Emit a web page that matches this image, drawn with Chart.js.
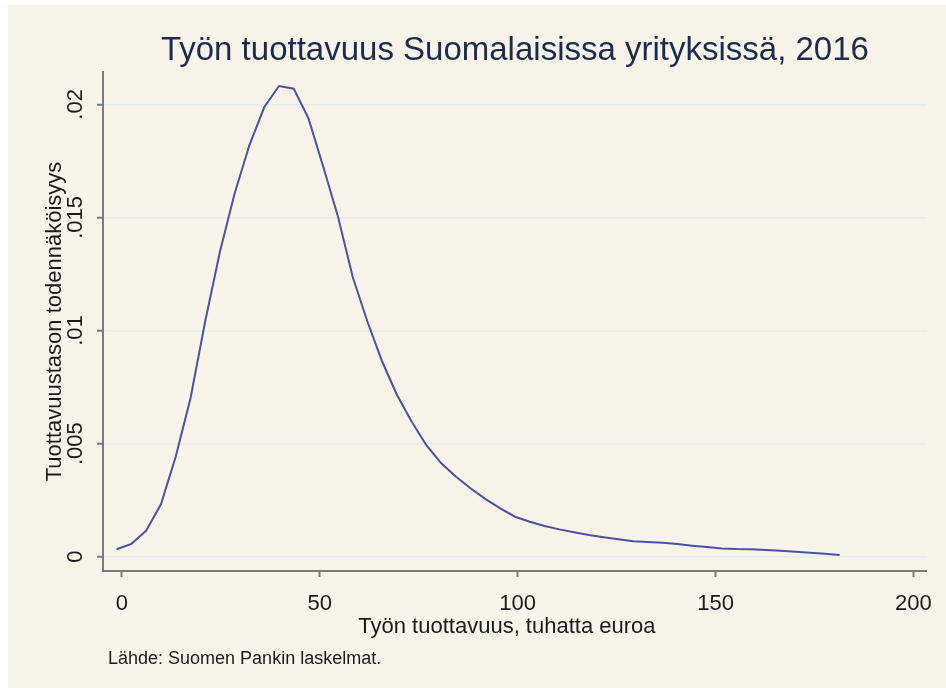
<!DOCTYPE html>
<html>
<head>
<meta charset="utf-8">
<script src="https://cdn.jsdelivr.net/npm/chart.js@4.4.1/dist/chart.umd.min.js"></script>
<style>
  html, body { margin: 0; padding: 0; background: #ffffff; }
  #wrap { width: 946px; height: 688px; position: relative; }
</style>
</head>
<body>
<div id="wrap"><canvas id="c" width="946" height="688"></canvas></div>
<script>
// ---- data ----
const titleText = 'Työn tuottavuus Suomalaisissa yrityksissä, 2016';
const xTitle = 'Työn tuottavuus, tuhatta euroa';
const yTitle = 'Tuottavuustason todennäköisyys';
const sourceText = 'Lähde: Suomen Pankin laskelmat.';

const xTicks = [0, 50, 100, 150, 200];
const xTickLabels = ['0', '50', '100', '150', '200'];
const yTicks = [0, 0.005, 0.01, 0.015, 0.02];
const yTickLabels = ['0', '.005', '.01', '.015', '.02'];

const productivity = [
  -1.34, 2.39, 6.12, 9.85, 13.58, 17.31, 21.03, 24.76, 28.49, 32.22,
  35.95, 39.68, 43.41, 47.14, 50.87, 54.60, 58.32, 62.05, 65.78, 69.51,
  73.24, 76.97, 80.70, 84.43, 88.16, 91.89, 95.61, 99.34, 103.07, 106.80,
  110.53, 114.26, 117.99, 121.72, 125.45, 129.18, 132.90, 136.63, 140.36, 144.09,
  147.82, 151.55, 155.28, 159.01, 162.74, 166.47, 170.19, 173.92, 177.65, 181.38
];
const density = [
  0.00033, 0.00057, 0.00115, 0.00232, 0.00442, 0.00700, 0.01040, 0.01348, 0.01607, 0.01820,
  0.01987, 0.02081, 0.02069, 0.01938, 0.01724, 0.01503, 0.01237, 0.01039, 0.00862, 0.00715,
  0.00597, 0.00492, 0.00413, 0.00354, 0.00302, 0.00255, 0.00214, 0.00177, 0.00155, 0.00136,
  0.00121, 0.00108, 0.00096, 0.00086, 0.00077, 0.00069, 0.00065, 0.00062, 0.00056, 0.00049,
  0.00043, 0.00037, 0.00034, 0.00033, 0.00030, 0.00027, 0.00022, 0.00018, 0.00013, 0.00008
];

// ---- styling ----
const FONT = '"Liberation Sans", Arial, Helvetica, sans-serif';
const BG = '#f8f4ea';
const AXIS = '#7a7a7a';
const GRID = '#e6ecec';
const LINE = '#4b51a5';
const TEXT = '#1b1b1b';
const TITLE = '#1d2b4c';

const bgPlugin = {
  id: 'bg',
  beforeDraw(chart) {
    const ctx = chart.ctx;
    ctx.save();
    ctx.fillStyle = '#ffffff';
    ctx.fillRect(0, 0, chart.width, chart.height);
    ctx.fillStyle = BG;
    ctx.fillRect(8, 5, chart.width - 8, chart.height - 5);
    ctx.restore();
  }
};

const textPlugin = {
  id: 'texts',
  afterDraw(chart) {
    const ctx = chart.ctx;
    const ca = chart.chartArea;
    ctx.save();
    ctx.textAlign = 'center';
    ctx.textBaseline = 'alphabetic';
    ctx.fillStyle = TITLE;
    ctx.font = '33px ' + FONT;
    ctx.fillText(titleText, (ca.left + ca.right) / 2, 60);
    ctx.fillStyle = TEXT;
    ctx.font = '22px ' + FONT;
    ctx.fillText(xTitle, (ca.left + ca.right) / 2 - 8, 633);
    ctx.textAlign = 'left';
    ctx.font = '18px ' + FONT;
    ctx.fillText(sourceText, 108, 664);
    ctx.restore();
  }
};

new Chart(document.getElementById('c'), {
  type: 'line',
  data: {
    datasets: [{
      data: productivity.map((x, i) => ({ x: x, y: density[i] })),
      borderColor: LINE,
      borderWidth: 2,
      pointRadius: 0,
      tension: 0,
      fill: false
    }]
  },
  options: {
    responsive: false,
    animation: false,
    events: [],
    layout: { padding: { top: 72, right: 17, bottom: 0, left: 0 } },
    plugins: {
      legend: { display: false },
      title: { display: false },
      tooltip: { enabled: false }
    },
    scales: {
      x: {
        type: 'linear',
        min: -4.79,
        max: 203.4,
        afterBuildTicks: (s) => { s.ticks = xTicks.map(v => ({ value: v })); },
        afterFit: (s) => { s.height = 117; },
        ticks: {
          callback: (v, i) => xTickLabels[i],
          font: { family: FONT, size: 22 },
          color: TEXT,
          padding: 14,
          maxRotation: 0,
          minRotation: 0
        },
        grid: {
          drawOnChartArea: false,
          drawTicks: true,
          tickLength: 6,
          tickColor: AXIS,
          tickWidth: 2
        },
        border: { display: true, color: AXIS, width: 2 }
      },
      y: {
        type: 'linear',
        min: -0.00063,
        max: 0.02143,
        afterBuildTicks: (s) => { s.ticks = yTicks.map(v => ({ value: v })); },
        afterFit: (s) => { s.width = 103; },
        ticks: {
          callback: (v, i) => yTickLabels[i],
          font: { family: FONT, size: 22 },
          color: TEXT,
          padding: 0,
          minRotation: 90,
          maxRotation: 90,
          crossAlign: 'center'
        },
        grid: {
          color: GRID,
          lineWidth: 1.5,
          drawTicks: true,
          tickLength: 6,
          tickColor: AXIS,
          tickWidth: 2
        },
        border: { display: true, color: AXIS, width: 2 },
        title: {
          display: true,
          text: yTitle,
          font: { family: FONT, size: 22 },
          color: TEXT,
          padding: { top: 42, bottom: 0 }
        }
      }
    }
  },
  plugins: [bgPlugin, textPlugin]
});
</script>
</body>
</html>
